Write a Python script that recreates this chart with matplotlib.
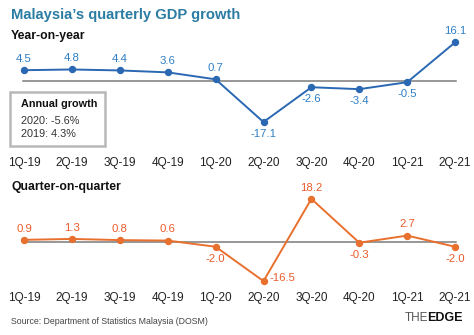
import matplotlib
matplotlib.use('Agg')
import matplotlib.pyplot as plt
from matplotlib.patches import Rectangle
import matplotlib.transforms as mtransforms

plt.rcParams['font.family'] = ['Liberation Sans', 'DejaVu Sans']

quarters = ['1Q-19', '2Q-19', '3Q-19', '4Q-19', '1Q-20',
            '2Q-20', '3Q-20', '4Q-20', '1Q-21', '2Q-21']
yoy = [4.5, 4.8, 4.4, 3.6, 0.7, -17.1, -2.6, -3.4, -0.5, 16.1]
qoq = [0.9, 1.3, 0.8, 0.6, -2.0, -16.5, 18.2, -0.3, 2.7, -2.0]
yoy_pos = ['a', 'a', 'a', 'a', 'a', 'b', 'b', 'b', 'b', 'a']
qoq_pos = ['a', 'a', 'a', 'a', 'b', 'r', 'a', 'b', 'a', 'b']

W, H = 474, 335
BLUE = '#2a68b3'
BLUE_TXT = '#2f7fc4'
ORANGE = '#e8702f'
ORANGE_TXT = '#ea5b2b'
TEAL = '#2b7ca3'
GREY = '#7a7a7a'

fig = plt.figure(figsize=(W / 100, H / 100), dpi=100)
fig.patch.set_facecolor('white')


def px_axes(y0, y1):
    # axes spanning full width, from pixel row y0 (top) to y1
    return fig.add_axes([0, 1 - y1 / H, 1, (y1 - y0) / H])


x = list(range(len(quarters)))
x0, step = 24, 47.9
xlim = (-x0 / step, (W - x0) / step)


def panel(y0, y1, zero_px, scale, vals, pos, col, tcol, tick_px):
    ax = px_axes(y0, y1)
    ax.set_xlim(*xlim)
    ax.set_ylim(-(y1 - zero_px) / scale, (zero_px - y0) / scale)
    ax.axis('off')
    ax.plot([-0.02, 9.02], [0, 0], color=GREY, lw=1.1, zorder=1)
    ax.plot(x, vals, color=col, lw=1.4, marker='o', ms=4.3, zorder=3)
    for xi, v, p in zip(x, vals, pos):
        lbl = '%.1f' % v
        if p == 'a':
            ax.annotate(lbl, (xi, v), xytext=(0, 4.5), textcoords='offset points',
                        ha='center', va='bottom', color=tcol, fontsize=8.2)
        elif p == 'b':
            ax.annotate(lbl, (xi, v), xytext=(0, -5), textcoords='offset points',
                        ha='center', va='top', color=tcol, fontsize=8.2)
        else:
            ax.annotate(lbl, (xi, v), xytext=(4, 2), textcoords='offset points',
                        ha='left', va='center', color=tcol, fontsize=8.2)
    tr = mtransforms.blended_transform_factory(ax.transData, fig.transFigure)
    for xi, q in zip(x, quarters):
        ax.text(xi, 1 - tick_px / H, q, transform=tr, ha='center', va='center',
                fontsize=8.5, color='#222222')
    return ax


panel(30, 140, 81, 2.4, yoy, yoy_pos, BLUE, BLUE_TXT, 163)
panel(195, 290, 242, 2.37, qoq, qoq_pos, ORANGE, ORANGE_TXT, 298)

fig.text(11 / W, 1 - 15 / H, 'Malaysia\u2019s quarterly GDP growth', fontsize=10.6,
         fontweight='bold', color=TEAL, va='center', ha='left')
fig.text(11 / W, 1 - 36 / H, 'Year-on-year', fontsize=8.8, fontweight='bold',
         color='#111111', va='center', ha='left')
fig.text(11 / W, 1 - 187 / H, 'Quarter-on-quarter', fontsize=8.8, fontweight='bold',
         color='#111111', va='center', ha='left')

# annual growth box
fig.add_artist(Rectangle((10 / W, 1 - 146 / H), 95 / W, 54 / H,
                         transform=fig.transFigure, fill=False,
                         edgecolor='#b8b8b8', lw=1.8))
fig.text(21 / W, 1 - 104 / H, 'Annual growth', fontsize=7.8, fontweight='bold',
         color='#111111', va='center')
fig.text(21 / W, 1 - 121 / H, '2020: -5.6%', fontsize=7.8, color='#333333', va='center')
fig.text(21 / W, 1 - 133.5 / H, '2019: 4.3%', fontsize=7.8, color='#333333', va='center')

fig.text(11 / W, 1 - 322 / H, 'Source: Department of Statistics Malaysia (DOSM)',
         fontsize=6.3, color='#444444', va='center')

# logo
fig.text(405 / W, 1 - 318 / H, 'THE', fontsize=8.5, color='#555555', va='center',
         fontweight='light')
fig.text(427 / W, 1 - 318 / H, 'EDGE', fontsize=9, color='#111111', va='center',
         fontweight='heavy')

fig.savefig('out.png', dpi=100, facecolor='white')
